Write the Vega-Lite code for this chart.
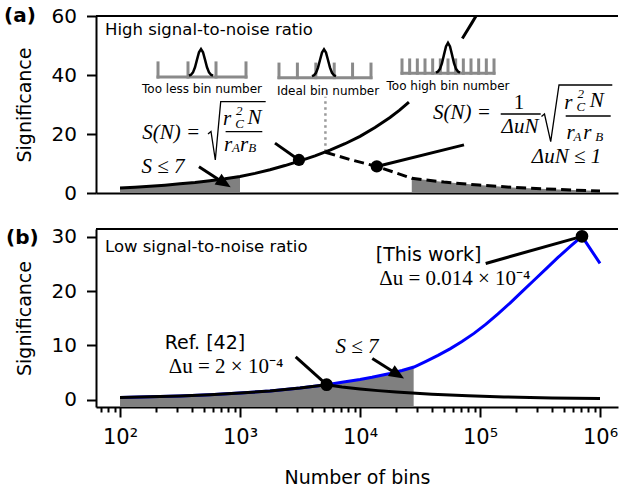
{
  "$schema": "https://vega.github.io/schema/vega-lite/v6.json",
  "padding": {"left": 4, "top": 6, "right": 0, "bottom": 0},
  "background": "white",
  "bounds": "flush",
  "spacing": 36,
  "config": {
    "view": {"stroke": null},
    "axis": {"labelFont": "DejaVu Sans", "titleFont": "DejaVu Sans", "labelFontSize": 20, "titleFontSize": 19, "titleFontWeight": "normal", "labelColor": "black", "titleColor": "black", "domainColor": "black", "domainWidth": 2, "tickColor": "black", "tickWidth": 2, "grid": false},
    "text": {"color": "black"}
  },
  "datasets": {
    "fillA": [
      {"N": 100, "S": 1.7, "part": "low"}, {"N": 133.4, "S": 1.95, "part": "low"}, {"N": 178, "S": 2.3, "part": "low"}, {"N": 237.1, "S": 2.65, "part": "low"}, {"N": 316, "S": 3.1, "part": "low"}, {"N": 421.7, "S": 3.55, "part": "low"}, {"N": 562, "S": 4.15, "part": "low"}, {"N": 749.9, "S": 4.8, "part": "low"}, {"N": 1000, "S": 5.6, "part": "low"},
      {"N": 27000, "S": 5.0, "part": "high"}, {"N": 50000, "S": 3.7, "part": "high"}, {"N": 97700, "S": 2.7, "part": "high"}, {"N": 186000, "S": 1.9, "part": "high"}, {"N": 355000, "S": 1.38, "part": "high"}, {"N": 600000, "S": 1.0, "part": "high"}, {"N": 1000000, "S": 0.65, "part": "high"}
    ],
    "vlineA": [{"N": 5150, "S": 14.0, "S2": 32.6}],
    "dashA": [
      {"N": 5150, "S": 13.8}, {"N": 8500, "S": 11.2}, {"N": 13800, "S": 9.0}, {"N": 20000, "S": 6.8}, {"N": 27000, "S": 5.0}, {"N": 50000, "S": 3.7}, {"N": 97700, "S": 2.7}, {"N": 186000, "S": 1.9}, {"N": 355000, "S": 1.38}, {"N": 600000, "S": 1.0}, {"N": 1000000, "S": 0.65}
    ],
    "curveA": [
      {"N": 100, "S": 1.7, "seg": 1}, {"N": 133.4, "S": 1.95, "seg": 1}, {"N": 178, "S": 2.3, "seg": 1}, {"N": 237.1, "S": 2.65, "seg": 1}, {"N": 316, "S": 3.1, "seg": 1}, {"N": 421.7, "S": 3.55, "seg": 1}, {"N": 562, "S": 4.15, "seg": 1}, {"N": 749.9, "S": 4.8, "seg": 1}, {"N": 1000, "S": 5.6, "seg": 1}, {"N": 1333.5, "S": 6.65, "seg": 1}, {"N": 1778, "S": 7.9, "seg": 1}, {"N": 2371, "S": 9.3, "seg": 1}, {"N": 3162, "S": 10.9, "seg": 1}, {"N": 4217, "S": 12.6, "seg": 1}, {"N": 5623, "S": 14.5, "seg": 1}, {"N": 7499, "S": 16.7, "seg": 1}, {"N": 10000, "S": 19.2, "seg": 1}, {"N": 13335, "S": 22.2, "seg": 1}, {"N": 17783, "S": 25.6, "seg": 1}, {"N": 21380, "S": 28.1, "seg": 1}, {"N": 25570, "S": 30.8, "seg": 1},
      {"N": 71250, "S": 52.4, "seg": 2}, {"N": 79433, "S": 55.5, "seg": 2}, {"N": 85114, "S": 57.5, "seg": 2}, {"N": 92700, "S": 60.0, "seg": 2}
    ],
    "combs": [
      {"N": 207.4, "N2": 1122, "S": 39.3, "S2": 39.3},
      {"N": 207.4, "N2": 207.4, "S": 39.3, "S2": 44.1}, {"N": 368.7, "N2": 368.7, "S": 39.3, "S2": 44.1}, {"N": 631, "N2": 631, "S": 39.3, "S2": 44.1}, {"N": 1122, "N2": 1122, "S": 39.3, "S2": 44.1},
      {"N": 2113, "N2": 12350, "S": 39.1, "S2": 39.1},
      {"N": 2113, "N2": 2113, "S": 39.1, "S2": 43.7}, {"N": 3008, "N2": 3008, "S": 39.1, "S2": 43.7}, {"N": 4285, "N2": 4285, "S": 39.1, "S2": 43.7}, {"N": 6097, "N2": 6097, "S": 39.1, "S2": 43.7}, {"N": 8670, "N2": 8670, "S": 39.1, "S2": 43.7}, {"N": 12350, "N2": 12350, "S": 39.1, "S2": 43.7},
      {"N": 22390, "N2": 130850, "S": 40.6, "S2": 40.6},
      {"N": 22390, "N2": 22390, "S": 40.6, "S2": 45.1}, {"N": 25935, "N2": 25935, "S": 40.6, "S2": 45.1}, {"N": 30048, "N2": 30048, "S": 40.6, "S2": 45.1}, {"N": 34807, "N2": 34807, "S": 40.6, "S2": 45.1}, {"N": 40324, "N2": 40324, "S": 40.6, "S2": 45.1}, {"N": 46709, "N2": 46709, "S": 40.6, "S2": 45.1}, {"N": 54112, "N2": 54112, "S": 40.6, "S2": 45.1}, {"N": 62696, "N2": 62696, "S": 40.6, "S2": 45.1}, {"N": 72631, "N2": 72631, "S": 40.6, "S2": 45.1}, {"N": 84140, "N2": 84140, "S": 40.6, "S2": 45.1}, {"N": 97477, "N2": 97477, "S": 40.6, "S2": 45.1}, {"N": 112910, "N2": 112910, "S": 40.6, "S2": 45.1}, {"N": 130850, "N2": 130850, "S": 40.6, "S2": 45.1}
    ],
    "peaks": [
      {"N": 375.8, "S": 39.8, "g": 1}, {"N": 390.5, "S": 40.1, "g": 1}, {"N": 405.8, "S": 40.9, "g": 1}, {"N": 421.7, "S": 42.6, "g": 1}, {"N": 438.2, "S": 45.2, "g": 1}, {"N": 455.3, "S": 47.7, "g": 1}, {"N": 473.2, "S": 48.8, "g": 1}, {"N": 491.7, "S": 47.7, "g": 1}, {"N": 510.9, "S": 45.2, "g": 1}, {"N": 530.9, "S": 42.6, "g": 1}, {"N": 551.7, "S": 40.9, "g": 1}, {"N": 573.1, "S": 40.1, "g": 1}, {"N": 595.7, "S": 39.8, "g": 1},
      {"N": 3981, "S": 39.6, "g": 2}, {"N": 4137, "S": 39.9, "g": 2}, {"N": 4299, "S": 40.75, "g": 2}, {"N": 4467, "S": 42.5, "g": 2}, {"N": 4642, "S": 45.1, "g": 2}, {"N": 4823, "S": 47.6, "g": 2}, {"N": 5012, "S": 48.7, "g": 2}, {"N": 5208, "S": 47.6, "g": 2}, {"N": 5411, "S": 45.1, "g": 2}, {"N": 5623, "S": 42.5, "g": 2}, {"N": 5843, "S": 40.75, "g": 2}, {"N": 6072, "S": 39.9, "g": 2}, {"N": 6310, "S": 39.6, "g": 2},
      {"N": 42990, "S": 40.8, "g": 3}, {"N": 44670, "S": 41.2, "g": 3}, {"N": 46420, "S": 42.1, "g": 3}, {"N": 48230, "S": 44.0, "g": 3}, {"N": 50120, "S": 46.9, "g": 3}, {"N": 52080, "S": 49.7, "g": 3}, {"N": 54110, "S": 50.9, "g": 3}, {"N": 56230, "S": 49.7, "g": 3}, {"N": 58430, "S": 46.9, "g": 3}, {"N": 60720, "S": 44.0, "g": 3}, {"N": 63100, "S": 42.1, "g": 3}, {"N": 65570, "S": 41.2, "g": 3}, {"N": 68120, "S": 40.8, "g": 3}
    ],
    "insetLabels": [
      {"N": 482.5, "S": 35.25, "label": "Too less bin number"},
      {"N": 5412, "S": 34.6, "label": "Ideal bin number"},
      {"N": 54110, "S": 36.3, "label": "Too high bin number"}
    ],
    "annoA": [
      {"N": 1957, "S": 16.9, "id": 1}, {"N": 3100, "S": 11.2, "id": 1},
      {"N": 13800, "S": 9.0, "id": 2}, {"N": 73560, "S": 16.3, "id": 2}
    ],
    "dotsA": [{"N": 3100, "S": 11.2}, {"N": 13800, "S": 9.0}],
    "arrowA": [{"N": 455, "S": 8.9, "N2": 741, "S2": 3.32}],
    "headA": [{"N": 741, "S": 3.32}],
    "headingA": [{"N": 75, "S": 55.25, "label": "High signal-to-noise ratio"}],
    "panelLabelA": [{"N": 10.8, "S": 60, "label": "(a)"}],
    "frameA": [{"N": 63.096, "N2": 1412538, "S": 60}],
    "mathA": [
      {"N": 267.7, "S": 20.2, "label": "S(N) ="},
      {"N": 228.2, "S": 8.9, "label": "S ≤ 7"},
      {"N": 70790, "S": 27.1, "label": "S(N) ="},
      {"N": 215400, "S": 22.5, "label": "ΔuN"},
      {"N": 525800, "S": 12.3, "label": "ΔuN ≤ 1"},
      {"N": 780, "S": 25.1, "label": "r"}, {"N": 1320, "S": 25.4, "label": "N"}, {"N": 797.6, "S": 16.3, "label": "r"}, {"N": 1080, "S": 16.3, "label": "r"},
      {"N": 545000, "S": 30.6, "label": "r"}, {"N": 940000, "S": 31.3, "label": "N"}, {"N": 569800, "S": 20.2, "label": "r"}, {"N": 784000, "S": 20.2, "label": "r"}
    ],
    "mathUpA": [{"N": 211300, "S": 30.4, "label": "1"}],
    "scriptA": [
      {"N": 985, "S": 27.9, "label": "2"}, {"N": 990, "S": 23.3, "label": "C"}, {"N": 925, "S": 15.15, "label": "A"}, {"N": 1266, "S": 15.15, "label": "B"},
      {"N": 690000, "S": 33.7, "label": "2"}, {"N": 692000, "S": 29.2, "label": "C"}, {"N": 650000, "S": 18.9, "label": "A"}, {"N": 985000, "S": 18.9, "label": "B"}
    ],
    "mathLinesA": [
      {"N": 541.1, "S": 20.0, "id": 1}, {"N": 573.1, "S": 20.85, "id": 1}, {"N": 622.6, "S": 11.19, "id": 1}, {"N": 690.6, "S": 30.95, "id": 1}, {"N": 1637, "S": 30.95, "id": 1},
      {"N": 758.6, "S": 20.78, "id": 2}, {"N": 1534, "S": 20.78, "id": 2},
      {"N": 325400, "S": 25.93, "id": 3}, {"N": 344700, "S": 26.78, "id": 3}, {"N": 388300, "S": 17.39, "id": 3}, {"N": 455300, "S": 36.61, "id": 3}, {"N": 1266000, "S": 36.61, "id": 3},
      {"N": 148800, "S": 26.78, "id": 4}, {"N": 320500, "S": 26.78, "id": 4},
      {"N": 517800, "S": 26.1, "id": 5}, {"N": 1228000, "S": 26.1, "id": 5}
    ],
    "fillB": [
      {"N": 100, "S": 0.38}, {"N": 178, "S": 0.51}, {"N": 316, "S": 0.68}, {"N": 562, "S": 0.9}, {"N": 1000, "S": 1.2}, {"N": 1778, "S": 1.6}, {"N": 3162, "S": 2.14}, {"N": 5270, "S": 2.75}, {"N": 7079, "S": 3.2}, {"N": 10000, "S": 3.7}, {"N": 12589, "S": 4.1}, {"N": 17783, "S": 4.8}, {"N": 22387, "S": 5.35}, {"N": 28000, "S": 6.0}
    ],
    "blueB": [
      {"N": 100, "S": 0.38}, {"N": 178, "S": 0.51}, {"N": 316, "S": 0.68}, {"N": 562, "S": 0.9}, {"N": 1000, "S": 1.2}, {"N": 1778, "S": 1.6}, {"N": 3162, "S": 2.14}, {"N": 5270, "S": 2.75}, {"N": 7079, "S": 3.2}, {"N": 10000, "S": 3.7}, {"N": 12589, "S": 4.1}, {"N": 17783, "S": 4.8}, {"N": 22387, "S": 5.35}, {"N": 28184, "S": 6.0},
      {"N": 35481, "S": 7.05}, {"N": 44668, "S": 8.15}, {"N": 56234, "S": 9.35}, {"N": 70795, "S": 10.7}, {"N": 89125, "S": 12.2}, {"N": 112202, "S": 13.9}, {"N": 141254, "S": 15.8}, {"N": 177828, "S": 17.8}, {"N": 223872, "S": 19.9}, {"N": 281838, "S": 22.0}, {"N": 354813, "S": 24.1}, {"N": 446684, "S": 26.2}, {"N": 562341, "S": 28.2}, {"N": 707946, "S": 30.1}, {"N": 1000000, "S": 25.1}
    ],
    "blackB": [
      {"N": 100, "S": 0.38}, {"N": 178, "S": 0.51}, {"N": 316, "S": 0.68}, {"N": 562, "S": 0.9}, {"N": 1000, "S": 1.2}, {"N": 1778, "S": 1.6}, {"N": 3162, "S": 2.14}, {"N": 5270, "S": 2.75}, {"N": 7079, "S": 2.3}, {"N": 10000, "S": 1.95}, {"N": 14125, "S": 1.65}, {"N": 20000, "S": 1.38}, {"N": 39800, "S": 0.98}, {"N": 79400, "S": 0.7}, {"N": 158500, "S": 0.48}, {"N": 398000, "S": 0.3}, {"N": 1000000, "S": 0.18}
    ],
    "annoB": [
      {"N": 2911, "S": 7.86, "id": 1}, {"N": 5270, "S": 2.75, "id": 1},
      {"N": 111500, "S": 25.1, "id": 2}, {"N": 707946, "S": 30.1, "id": 2}
    ],
    "dotsB": [{"N": 5270, "S": 2.75}, {"N": 707946, "S": 30.1}],
    "arrowB": [{"N": 12660, "S": 7.56, "N2": 20600, "S2": 4.61}],
    "headB": [{"N": 20600, "S": 4.61}],
    "textsB": [
      {"N": 13520, "S": 26.6, "label": "[This work]"},
      {"N": 235.8, "S": 10.4, "label": "Ref. [42]"}
    ],
    "headingB": [{"N": 75, "S": 28.15, "label": "Low signal-to-noise ratio"}],
    "panelLabelB": [{"N": 11.22, "S": 29.7, "label": "(b)"}],
    "frameB": [{"N": 63.096, "N2": 1412538, "S": 31.45}],
    "mathB": [
      {"N": 61660, "S": 22.3, "label": "Δu = 0.014 × 10⁻⁴"},
      {"N": 764.3, "S": 6.0, "label": "Δu = 2 × 10⁻⁴"}
    ],
    "mathItB": [{"N": 9441, "S": 9.7, "label": "S ≤ 7"}]
  },
  "vconcat": [
    {
      "width": 522,
      "height": 177,
      "encoding": {
        "x": {"field": "N", "type": "quantitative", "scale": {"type": "log", "domain": [63.096, 1412538], "nice": false}, "axis": {"orient": "bottom", "ticks": false, "labels": false, "title": null, "domain": true}},
        "y": {"field": "S", "type": "quantitative", "scale": {"domain": [0, 60], "nice": false, "zero": false}, "axis": {"values": [0, 20, 40, 60], "tickSize": 9.5, "labelPadding": 10, "title": "Significance", "titlePadding": 17}}
      },
      "layer": [
        {
          "data": {"name": "fillA"},
          "mark": {"type": "area", "color": "#808080"},
          "encoding": {"y2": {"datum": 0}, "detail": {"field": "part", "type": "nominal"}}
        },
        {
          "data": {"name": "vlineA"},
          "mark": {"type": "rule", "color": "#9a9a9a", "strokeWidth": 2.5, "strokeDash": [2.5, 3.5]},
          "encoding": {"y2": {"field": "S2"}}
        },
        {
          "data": {"name": "dashA"},
          "mark": {"type": "line", "color": "black", "strokeWidth": 3, "strokeDash": [10, 5]}
        },
        {
          "data": {"name": "curveA"},
          "mark": {"type": "line", "color": "black", "strokeWidth": 3},
          "encoding": {"detail": {"field": "seg", "type": "nominal"}}
        },
        {
          "data": {"name": "combs"},
          "mark": {"type": "rule", "color": "#8a8a8a", "strokeWidth": 3, "strokeCap": "square"},
          "encoding": {"x2": {"field": "N2"}, "y2": {"field": "S2"}}
        },
        {
          "data": {"name": "peaks"},
          "mark": {"type": "line", "color": "black", "strokeWidth": 2.5},
          "encoding": {"detail": {"field": "g", "type": "nominal"}}
        },
        {
          "data": {"name": "insetLabels"},
          "mark": {"type": "text", "font": "DejaVu Sans", "fontSize": 12, "align": "center", "baseline": "middle"},
          "encoding": {"text": {"field": "label"}}
        },
        {
          "data": {"name": "annoA"},
          "mark": {"type": "line", "color": "black", "strokeWidth": 3},
          "encoding": {"detail": {"field": "id", "type": "nominal"}}
        },
        {
          "data": {"name": "dotsA"},
          "mark": {"type": "point", "shape": "circle", "filled": true, "color": "black", "size": 150, "opacity": 1}
        },
        {
          "data": {"name": "arrowA"},
          "mark": {"type": "rule", "color": "black", "strokeWidth": 3},
          "encoding": {"x2": {"field": "N2"}, "y2": {"field": "S2"}}
        },
        {
          "data": {"name": "headA"},
          "mark": {"type": "point", "shape": "M0,-1L-0.85,1L0.85,1Z", "filled": true, "color": "black", "size": 225, "angle": 123, "opacity": 1}
        },
        {
          "data": {"name": "headingA"},
          "mark": {"type": "text", "font": "DejaVu Sans", "fontSize": 16.5, "align": "left", "baseline": "middle"},
          "encoding": {"text": {"field": "label"}}
        },
        {
          "data": {"name": "panelLabelA"},
          "mark": {"type": "text", "font": "DejaVu Sans", "fontSize": 20, "fontWeight": "bold", "align": "left", "baseline": "middle"},
          "encoding": {"text": {"field": "label"}}
        },
        {
          "data": {"name": "mathA"},
          "mark": {"type": "text", "font": "Liberation Serif", "fontStyle": "italic", "fontSize": 21, "align": "center", "baseline": "middle"},
          "encoding": {"text": {"field": "label"}}
        },
        {
          "data": {"name": "mathUpA"},
          "mark": {"type": "text", "font": "Liberation Serif", "fontSize": 21, "align": "center", "baseline": "middle"},
          "encoding": {"text": {"field": "label"}}
        },
        {
          "data": {"name": "scriptA"},
          "mark": {"type": "text", "font": "Liberation Serif", "fontStyle": "italic", "fontSize": 13, "align": "center", "baseline": "middle"},
          "encoding": {"text": {"field": "label"}}
        },
        {
          "data": {"name": "mathLinesA"},
          "mark": {"type": "line", "color": "black", "strokeWidth": 1.3},
          "encoding": {"detail": {"field": "id", "type": "nominal"}}
        },
        {
          "data": {"name": "frameA"},
          "mark": {"type": "rule", "color": "black", "strokeWidth": 2},
          "encoding": {"x2": {"field": "N2"}}
        }
      ]
    },
    {
      "width": 522,
      "height": 178,
      "encoding": {
        "x": {"field": "N", "type": "quantitative", "scale": {"type": "log", "domain": [63.096, 1412538], "nice": false},
          "axis": {
            "values": [70, 80, 90, 100, 200, 300, 400, 500, 600, 700, 800, 900, 1000, 2000, 3000, 4000, 5000, 6000, 7000, 8000, 9000, 10000, 20000, 30000, 40000, 50000, 60000, 70000, 80000, 90000, 100000, 200000, 300000, 400000, 500000, 600000, 700000, 800000, 900000, 1000000],
            "labelExpr": "abs(log(datum.value)/LN10 - round(log(datum.value)/LN10)) < 0.01 ? '10' + ['⁰','¹','²','³','⁴','⁵','⁶','⁷'][round(log(datum.value)/LN10)] : ''",
            "tickSize": {"condition": {"test": "abs(log(datum.value)/LN10 - round(log(datum.value)/LN10)) < 0.01", "value": 10}, "value": 5},
            "labelPadding": 9,
            "labelFontSize": 21,
            "labelOverlap": false,
            "labelFlush": false,
            "title": "Number of bins",
            "titlePadding": 21
          }
        },
        "y": {"field": "S", "type": "quantitative", "scale": {"domain": [-1.37, 31.45], "nice": false, "zero": false}, "axis": {"values": [0, 10, 20, 30], "tickSize": 9.5, "labelPadding": 10, "title": "Significance", "titlePadding": 17}}
      },
      "layer": [
        {
          "data": {"name": "fillB"},
          "mark": {"type": "area", "color": "#808080"},
          "encoding": {"y2": {"datum": -1.37}}
        },
        {
          "data": {"name": "blueB"},
          "mark": {"type": "line", "color": "#0000ff", "strokeWidth": 3}
        },
        {
          "data": {"name": "blackB"},
          "mark": {"type": "line", "color": "black", "strokeWidth": 3}
        },
        {
          "data": {"name": "annoB"},
          "mark": {"type": "line", "color": "black", "strokeWidth": 3},
          "encoding": {"detail": {"field": "id", "type": "nominal"}}
        },
        {
          "data": {"name": "dotsB"},
          "mark": {"type": "point", "shape": "circle", "filled": true, "color": "black", "size": 160, "opacity": 1}
        },
        {
          "data": {"name": "arrowB"},
          "mark": {"type": "rule", "color": "black", "strokeWidth": 3},
          "encoding": {"x2": {"field": "N2"}, "y2": {"field": "S2"}}
        },
        {
          "data": {"name": "headB"},
          "mark": {"type": "point", "shape": "M0,-1L-0.85,1L0.85,1Z", "filled": true, "color": "black", "size": 225, "angle": 122, "opacity": 1}
        },
        {
          "data": {"name": "textsB"},
          "mark": {"type": "text", "font": "DejaVu Sans", "fontSize": 19, "align": "left", "baseline": "middle"},
          "encoding": {"text": {"field": "label"}}
        },
        {
          "data": {"name": "headingB"},
          "mark": {"type": "text", "font": "DejaVu Sans", "fontSize": 16.5, "align": "left", "baseline": "middle"},
          "encoding": {"text": {"field": "label"}}
        },
        {
          "data": {"name": "panelLabelB"},
          "mark": {"type": "text", "font": "DejaVu Sans", "fontSize": 20, "fontWeight": "bold", "align": "left", "baseline": "middle"},
          "encoding": {"text": {"field": "label"}}
        },
        {
          "data": {"name": "mathB"},
          "mark": {"type": "text", "font": "Liberation Serif", "fontSize": 21, "align": "center", "baseline": "middle"},
          "encoding": {"text": {"field": "label"}}
        },
        {
          "data": {"name": "mathItB"},
          "mark": {"type": "text", "font": "Liberation Serif", "fontStyle": "italic", "fontSize": 21, "align": "center", "baseline": "middle"},
          "encoding": {"text": {"field": "label"}}
        },
        {
          "data": {"name": "frameB"},
          "mark": {"type": "rule", "color": "black", "strokeWidth": 2},
          "encoding": {"x2": {"field": "N2"}}
        }
      ]
    }
  ]
}
